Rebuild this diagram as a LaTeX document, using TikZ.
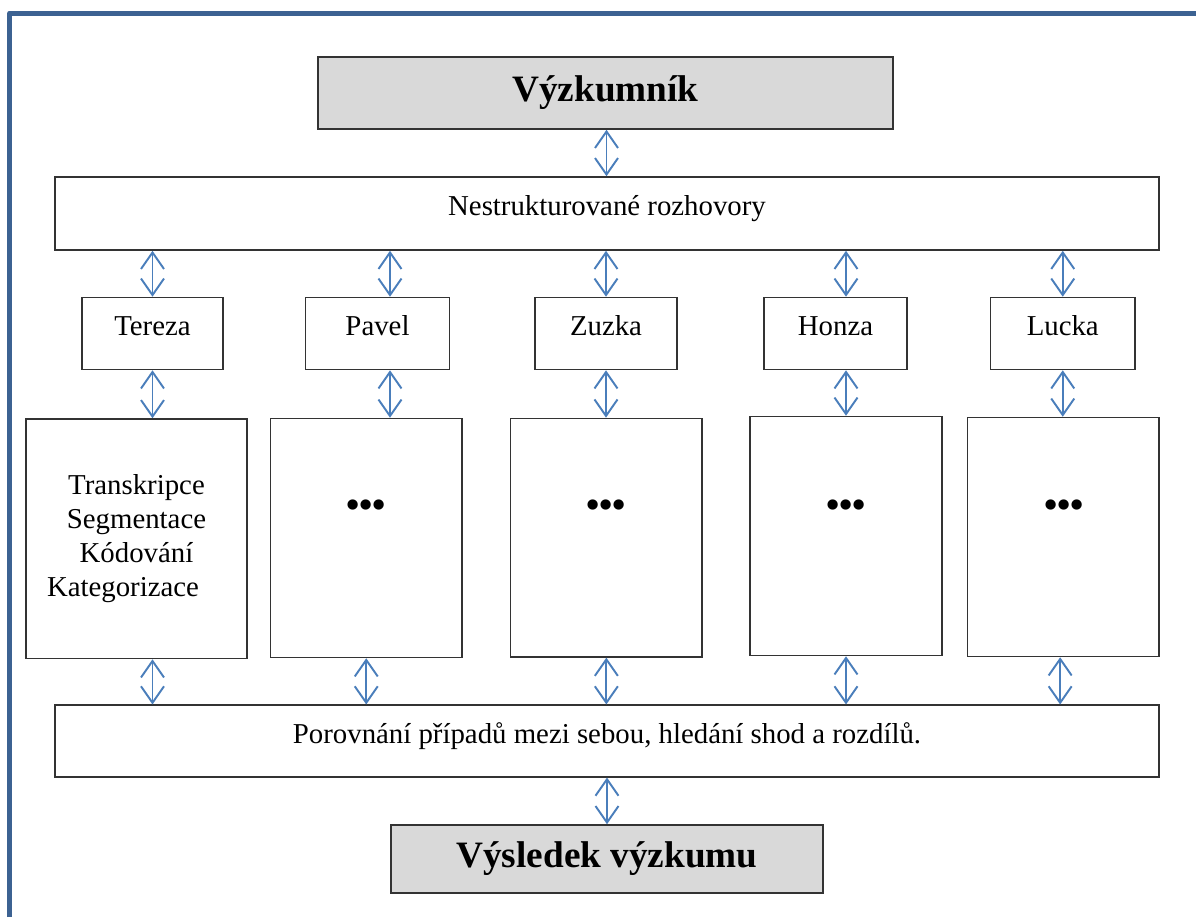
\documentclass[tikz,border=0pt]{standalone}
\usepackage{fontspec}
\setmainfont{Liberation Serif}
\usepackage{tikz}
\usetikzlibrary{arrows.meta, positioning}

\definecolor{frameblue}{HTML}{3C6292}
\definecolor{linkblue}{HTML}{4A7EBB}
\definecolor{headgray}{HTML}{D9D9D9}

\tikzset{
  casebox/.style={draw=black!80, line width=0.9pt, inner sep=0pt, align=center,
    font=\fontsize{16.4}{19.3}\selectfont},
  rowbox/.style={casebox, text height=0.4cm, text depth=0.32cm},
  headbox/.style={casebox, fill=headgray, font=\fontsize{21.2}{25}\selectfont\bfseries},
  ellip/.style={inner sep=0pt, font=\fontsize{21.5}{25}\selectfont\bfseries},
  link/.style={draw=linkblue, line width=1.1pt,
    {Straight Barb[length=3.3mm,width=4.6mm]}-{Straight Barb[length=3.3mm,width=4.6mm]}}
}

\begin{document}
\begin{tikzpicture}[x=0.02cm, y=-0.02cm]
  \useasboundingbox (0,0) rectangle (1196,917);
  % frame (only top and left edge visible)
  \draw[frameblue, line width=0.1cm, line join=round] (9.8,917) -- (9.8,13) -- (1196,13);

  % researcher and interviews
  \node[headbox, minimum width=11.5cm, minimum height=1.44cm] (res) at (605.5,93) {Výzkumník};
  \node[rowbox, minimum width=22.08cm, minimum height=1.46cm] (nest) at (607,213.5) {Nestrukturované rozhovory};

  % persons
  \node[rowbox, minimum width=2.82cm, minimum height=1.44cm] (tereza) at (152.5,333.5) {Tereza};
  \node[rowbox, minimum width=2.88cm, minimum height=1.44cm] (pavel) at (377.5,333.5) {Pavel};
  \node[rowbox, minimum width=2.84cm, minimum height=1.44cm] (zuzka) at (606,333.5) {Zuzka};
  \node[rowbox, minimum width=2.86cm, minimum height=1.44cm] (honza) at (835.5,333.5) {Honza};
  \node[rowbox, minimum width=2.89cm, minimum height=1.44cm] (lucka) at (1062.75,333.5) {Lucka};

  % analysis of each case
  \node[casebox, minimum width=4.42cm, minimum height=4.79cm] (terezabig) at (136.5,538.75)
    {Transkripce\\Segmentace\\Kódování\\Kategorizace\hspace*{0.54cm}};
  \node[casebox, minimum width=3.83cm, minimum height=4.78cm] (pavelbig) at (366.25,538) {};
  \node[casebox, minimum width=3.83cm, minimum height=4.77cm] (zuzkabig) at (606.35,537.65) {};
  \node[casebox, minimum width=3.84cm, minimum height=4.78cm] (honzabig) at (846,536) {};
  \node[casebox, minimum width=3.83cm, minimum height=4.78cm] (luckabig) at (1063.15,537) {};
  \node[ellip] (pavelell) at (366,509) {•••};
  \node[ellip] (zuzkaell) at (606,509) {•••};
  \node[ellip] (honzaell) at (846,509) {•••};
  \node[ellip] (luckaell) at (1064,509) {•••};

  % comparison and result
  \node[rowbox, minimum width=22.08cm, minimum height=1.43cm] (por) at (607,741)
    {Porovnání případů mezi sebou, hledání shod a rozdílů.};
  \node[headbox, minimum width=8.65cm, minimum height=1.36cm] (vys) at (607,859) {Výsledek výzkumu};

  % connectors
  \draw[link] ([xshift=0.02cm]res.south) -- ([xshift=0.02cm]res.south |- nest.north);
  \draw[link] (nest.south -| tereza.north) -- (tereza.north);
  \draw[link] ([xshift=0.25cm]pavel.north |- nest.south) -- ([xshift=0.25cm]pavel.north);
  \draw[link] (nest.south -| zuzka.north) -- (zuzka.north);
  \draw[link] (nest.south -| honzabig.north) -- (honza.north -| honzabig.north);
  \draw[link] (nest.south -| lucka.north) -- (lucka.north);

  \draw[link] (tereza.south) -- (tereza.south |- terezabig.north);
  \draw[link] ([xshift=0.25cm]pavel.south) -- ([xshift=0.25cm]pavel.south |- pavelbig.north);
  \draw[link] (zuzka.south) -- (zuzka.south |- zuzkabig.north);
  \draw[link] (honza.south -| honzabig.north) -- (honzabig.north);
  \draw[link] (lucka.south) -- (lucka.south |- luckabig.north);

  \draw[link] (terezabig.south -| tereza.south) -- (por.north -| tereza.south);
  \draw[link] (pavelbig.south) -- (pavelbig.south |- por.north);
  \draw[link] (zuzkabig.south) -- (zuzkabig.south |- por.north);
  \draw[link] (honzabig.south) -- (honzabig.south |- por.north);
  \draw[link] ([xshift=-0.06cm]luckabig.south) -- ([xshift=-0.06cm]luckabig.south |- por.north);

  \draw[link] (por.south -| vys.north) -- (vys.north);
\end{tikzpicture}
\end{document}
